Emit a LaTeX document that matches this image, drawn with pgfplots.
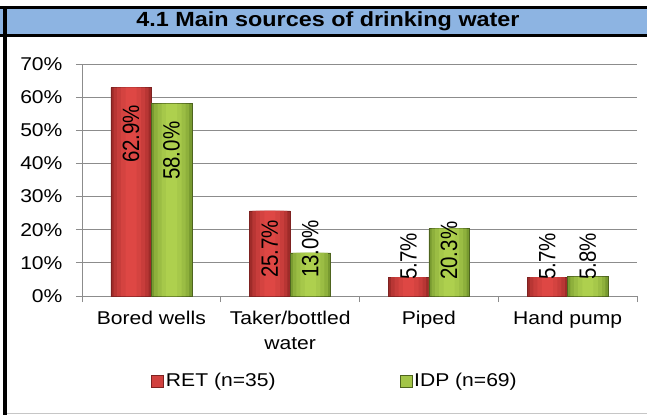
\documentclass[border=0pt]{standalone}
\usepackage{pgfplots}
\usepackage{pgfplotstable}
\pgfplotsset{compat=1.18}
\usepackage{fontspec}
\setmainfont{Liberation Sans}[FakeStretch=1.14]
\newfontfamily\rotfont{Liberation Sans}
\definecolor{titleblue}{HTML}{8DB4E2}
\definecolor{redE}{HTML}{9E2B29}
\definecolor{redM}{HTML}{DE4744}
\definecolor{grnE}{HTML}{789A30}
\definecolor{grnM}{HTML}{AED04E}
\definecolor{gridgray}{HTML}{8C8C8C}
\pgfplotsset{
  lab/.style={only marks, mark=none, nodes near coords={\scalebox{1}[1.15]{\pgfplotspointmeta}},
    point meta=explicit symbolic,
    every node near coord/.style={xshift=#1, rotate=90, anchor=west, inner sep=0pt,
    font=\rotfont\fontsize{20.5}{24}\selectfont, text=black}, forget plot}}
\pgfplotstableread{
x ret idp
0 62.9 58.0
1 25.7 13.0
2 5.7 20.3
3 5.7 5.8
}\datatable
\begin{document}
\begin{tikzpicture}[x=1pt,y=1pt]
\useasboundingbox (0,0) rectangle (647,415);
\fill[white] (0,0) rectangle (647,415);
\fill[titleblue] (0,378) rectangle (647,406);
\fill[black] (0,406) rectangle (647,409);
\fill[black] (0,378) rectangle (647,381);
\fill[black] (3,0) rectangle (7,409);
\draw[gray!45, line width=1pt] (7,2) -- (647,2);
\node[font=\fontsize{20.5}{24}\selectfont\bfseries] at (328,393.5) {4.1 Main sources of drinking water};
\begin{axis}[at={(82pt,119pt)}, anchor=south west, scale only axis,
  width=555pt, height=232pt,
  xmin=-0.5, xmax=3.5, ymin=0, ymax=70,
  axis lines=left, axis line style={gridgray, line width=1pt, -},
  ytick={0,10,...,70},
  /pgf/number format/assume math mode=true,
  yticklabel={\pgfmathprintnumber{\tick}\%},
  yticklabel style={xshift=-10pt},
  ymajorgrids, grid style={gridgray, line width=1pt},
  xtick={0,1,2,3},
  xticklabels={Bored wells, Taker/bottled\\water, Piped, Hand pump},
  minor xtick={-0.5,0.5,1.5,2.5,3.5},
  major x tick style={draw=none},
  tick align=outside, major tick length=6pt, minor tick length=6pt,
  tick style={gridgray, line width=1pt},
  tick label style={font=\fontsize{18.5}{22}\selectfont, text=black},
  xticklabel style={align=center, yshift=-6pt, font=\fontsize{18.5}{24.5}\selectfont},
  legend style={at={(0.456,-0.366)}, anchor=center, draw=none,
    font=\fontsize{18.5}{22}\selectfont,
    /tikz/every even column/.append style={column sep=122pt}},
  legend columns=2,
]
% RET bars (layered to imitate the horizontal gradient)
\addplot[ybar, bar width=40.5pt, bar shift=-20.25pt, draw=redE!80!black, line width=0.6pt,
  fill=redE, legend image code/.code={\draw[draw=redE!80!black, fill=redM!80!redE] (0pt,-6pt) rectangle (12pt,6pt);}]
  table[x=x,y=ret]{\datatable};
\addlegendentry{RET (n=35)}
\addplot[ybar, forget plot, bar width=35pt, bar shift=-20.25pt, draw=none, fill=redM!40!redE] table[x=x,y=ret]{\datatable};
\addplot[ybar, forget plot, bar width=28pt, bar shift=-20.25pt, draw=none, fill=redM!65!redE] table[x=x,y=ret]{\datatable};
\addplot[ybar, forget plot, bar width=20pt, bar shift=-20.25pt, draw=none, fill=redM!85!redE] table[x=x,y=ret]{\datatable};
\addplot[ybar, forget plot, bar width=11pt, bar shift=-20.25pt, draw=none, fill=redM] table[x=x,y=ret]{\datatable};
% IDP bars
\addplot[ybar, bar width=40.5pt, bar shift=20.25pt, draw=grnE!65!black, line width=0.6pt,
  fill=grnE, legend image code/.code={\draw[draw=grnE!65!black, fill=grnM!80!grnE] (0pt,-6pt) rectangle (12pt,6pt);}]
  table[x=x,y=idp]{\datatable};
\addlegendentry{IDP (n=69)}
\addplot[ybar, forget plot, bar width=35pt, bar shift=20.25pt, draw=none, fill=grnM!40!grnE] table[x=x,y=idp]{\datatable};
\addplot[ybar, forget plot, bar width=28pt, bar shift=20.25pt, draw=none, fill=grnM!65!grnE] table[x=x,y=idp]{\datatable};
\addplot[ybar, forget plot, bar width=20pt, bar shift=20.25pt, draw=none, fill=grnM!85!grnE] table[x=x,y=idp]{\datatable};
\addplot[ybar, forget plot, bar width=11pt, bar shift=20.25pt, draw=none, fill=grnM] table[x=x,y=idp]{\datatable};
% data labels
\addplot[lab=-20.25pt] coordinates {(0,40.1) [62.9\%] (1,5.4) [25.7\%] (2,4.8) [5.7\%] (3,4.8) [5.7\%]};
\addplot[lab=20.25pt] coordinates {(0,35.0) [58.0\%] (1,5.4) [13.0\%] (2,4.8) [20.3\%] (3,4.8) [5.8\%]};
\end{axis}
\end{tikzpicture}
\end{document}
